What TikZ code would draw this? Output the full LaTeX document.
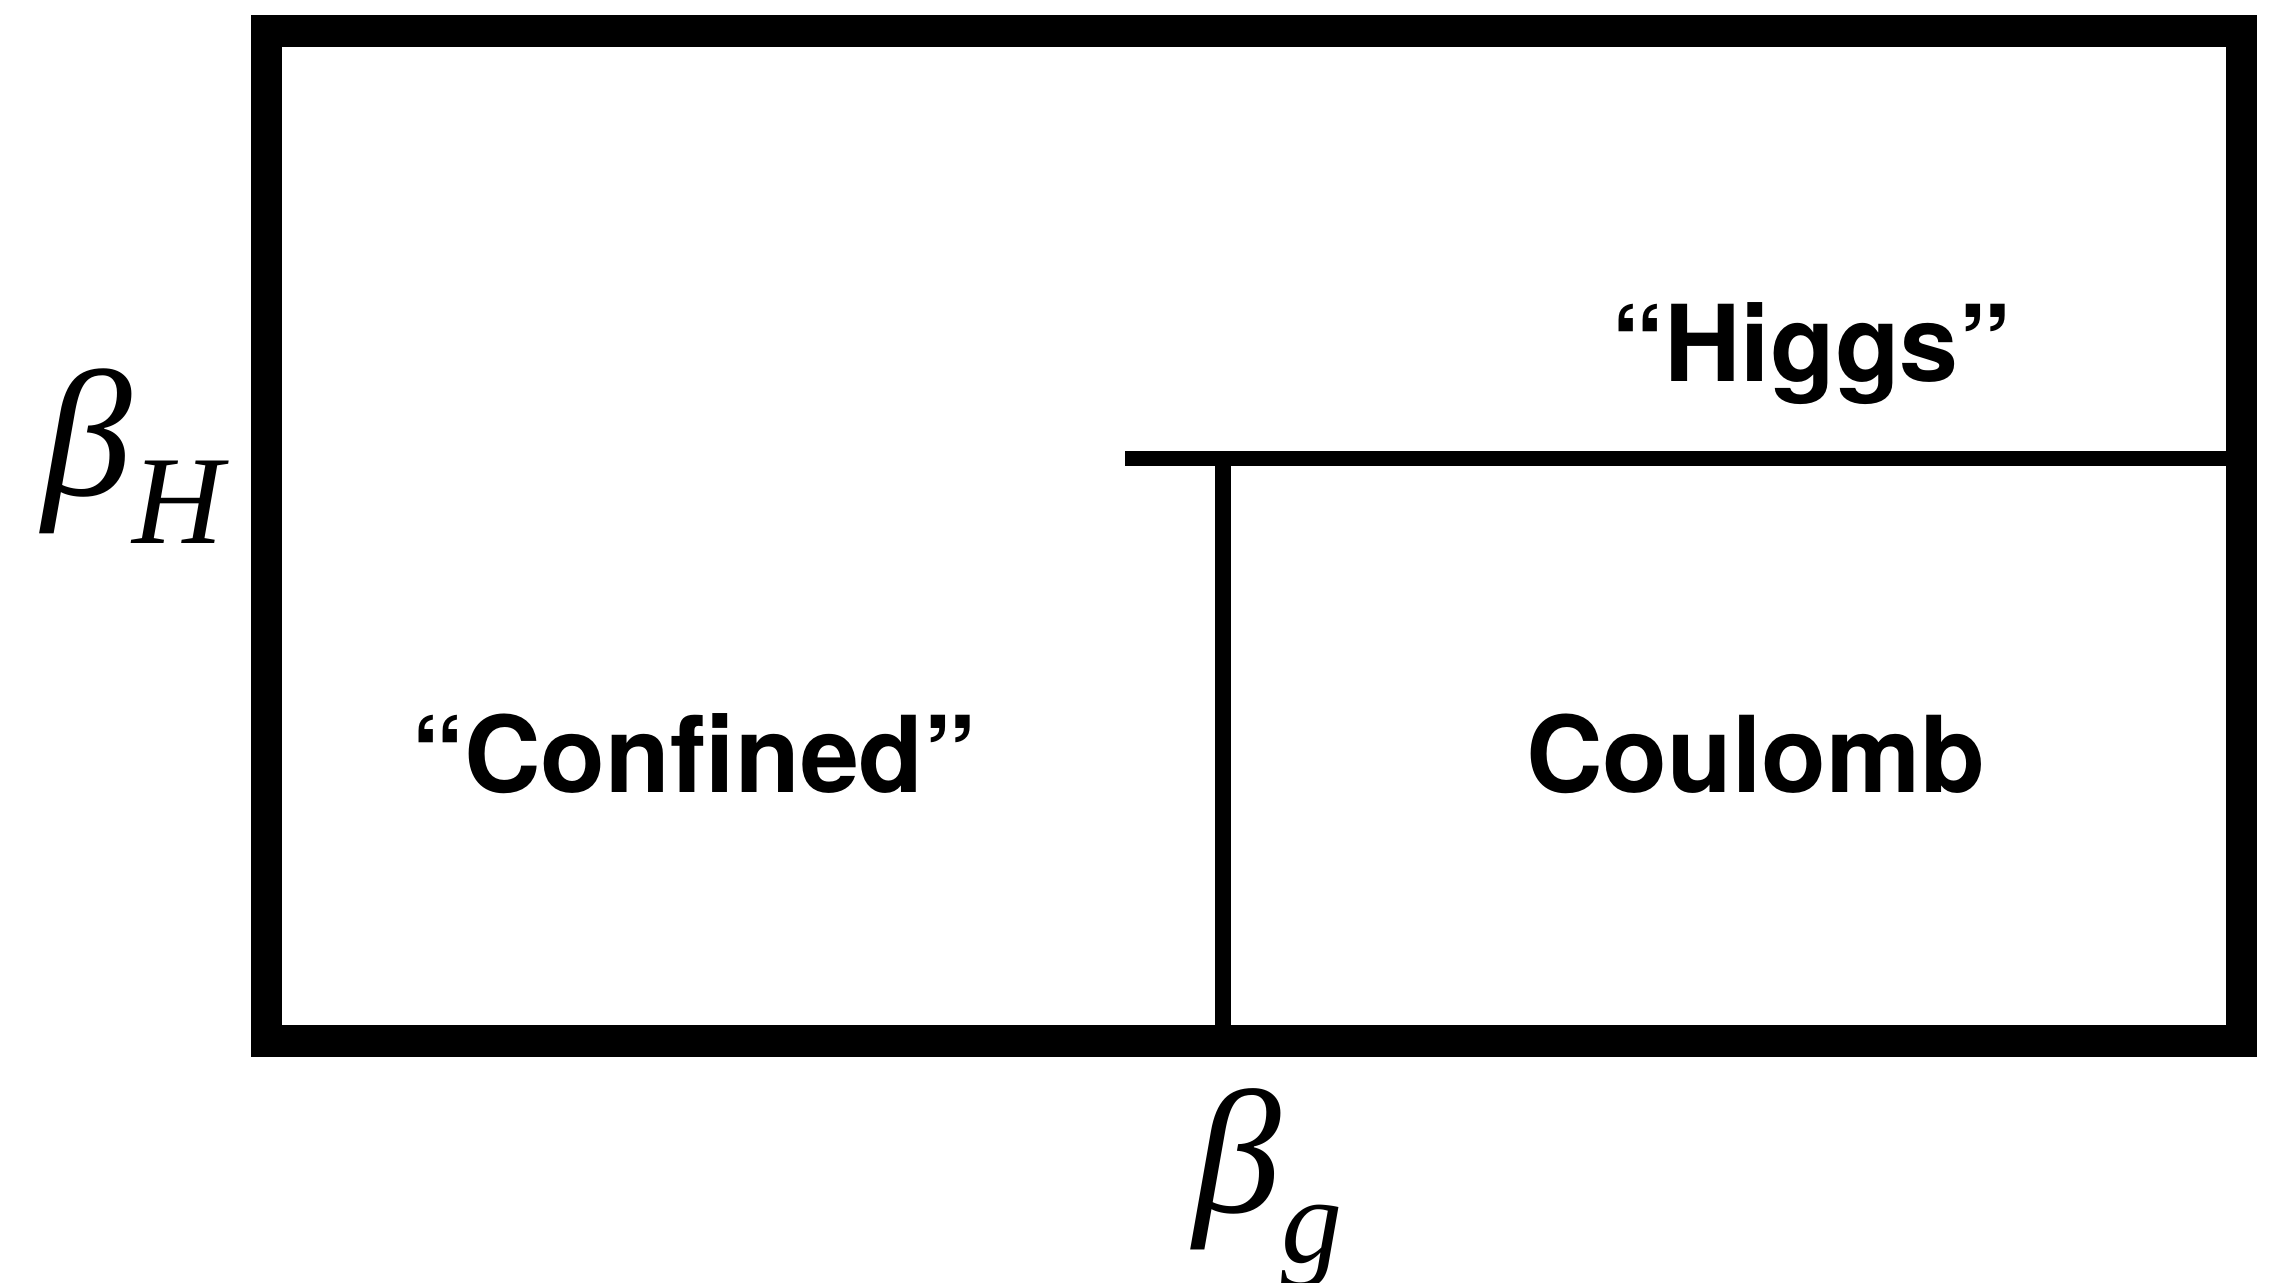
\documentclass[tikz,border=0pt]{standalone}
\usepackage{fontspec}
\newfontfamily\labelfont{TeX Gyre Heros}[Ligatures=NoCommon]
\newfontfamily\timesf{Liberation Serif}
\begin{document}
\begin{tikzpicture}[x=0.5pt,y=-0.5pt,
  frame/.style={line width=15.85pt,line join=miter},
  wall/.style={line width=7.8pt},
  region/.style={font=\labelfont\bfseries\fontsize{53}{60}\selectfont,inner sep=0pt,anchor=base west},
  axislabel/.style={font=\timesf\itshape,inner sep=0pt,anchor=base west}]
\useasboundingbox (0,0) rectangle (2295,1283);
\coordinate (tl) at (266.5,31.3);
\coordinate (br) at (2241.5,1041.2);
\coordinate (hl) at (1125,458.5);
\coordinate (hr) at (2241.5,458.5);
\coordinate (vt) at (1222.8,458.5);
\coordinate (vb) at (1222.8,1041.2);
\draw[frame] (tl) rectangle (br);
\draw[wall] (hl) -- (hr);
\draw[wall] (vt) -- (vb);
\node[region] (confined) at (411,792) {“Confined”};
\node[region] (coulomb) at (1526,792) {Coulomb};
\node[region] (higgs) at (1611,381.7) {“Higgs”};
\node[axislabel] (bH) at (42,495) {\fontsize{90}{90}\selectfont β\raisebox{-24pt}{\fontsize{63}{63}\selectfont H}};
\node[axislabel] (bg) at (1193,1212) {\fontsize{88}{88}\selectfont β\raisebox{-25pt}{\fontsize{61}{61}\selectfont g}};
\end{tikzpicture}
\end{document}
